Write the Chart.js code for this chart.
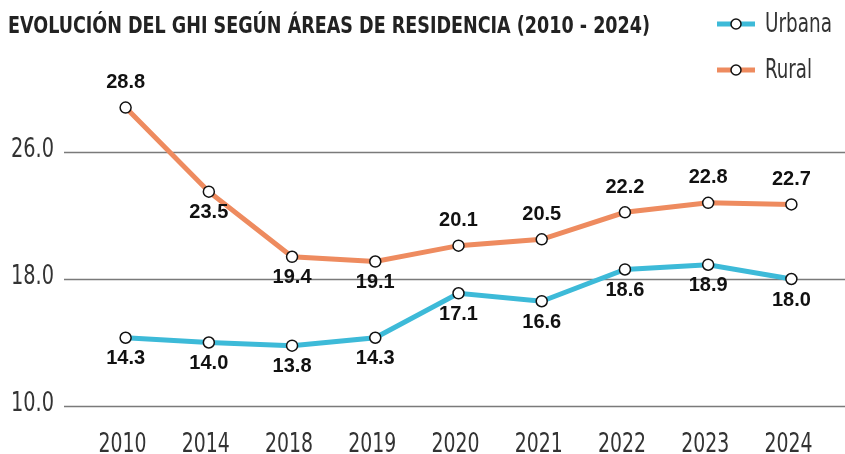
<!DOCTYPE html>
<html>
<head>
<meta charset="utf-8">
<script src="https://cdn.jsdelivr.net/npm/chart.js@4"></script>
<style>
  body { margin: 0; background: #fff; }
  #wrap { width: 845px; height: 454px; position: relative; }
</style>
</head>
<body>
<div id="wrap"><canvas id="ghiChart"></canvas></div>
<script>
// GHI by area of residence, 2010 - 2024
const years = ['2010', '2014', '2018', '2019', '2020', '2021', '2022', '2023', '2024']
const urbana = [14.3, 14.0, 13.8, 14.3, 17.1, 16.6, 18.6, 18.9, 18.0]
const rural = [28.8, 23.5, 19.4, 19.1, 20.1, 20.5, 22.2, 22.8, 22.7]
const yTicks = [10, 18, 26]

// where each value label sits, relative to its point
const urbanaLabelPos = ['below', 'below', 'below', 'below', 'below', 'below', 'below', 'below', 'below']
const ruralLabelPos = ['above', 'below', 'below', 'below', 'above', 'above', 'above', 'above', 'above']

const titleText = 'EVOLUCIÓN DEL GHI SEGÚN ÁREAS DE RESIDENCIA (2010 - 2024)'
const condFont = '"DejaVu Sans Condensed", "Liberation Sans Narrow", sans-serif'

const extras = {
  id: 'extras',
  beforeDatasetsDraw(chart) {
    const ctx = chart.ctx
    const y = chart.scales.y
    const x = chart.scales.x
    ctx.save()
    // gridlines + y labels
    yTicks.forEach(v => {
      const py = Math.round(y.getPixelForValue(v)) + 0.5
      ctx.strokeStyle = '#7a7a7a'
      ctx.lineWidth = 1.5
      ctx.beginPath()
      ctx.moveTo(64, py)
      ctx.lineTo(chart.width, py)
      ctx.stroke()
      ctx.fillStyle = '#333'
      ctx.font = '26px ' + condFont
      ctx.textAlign = 'right'
      ctx.textBaseline = 'alphabetic'
      ctx.fillText(v.toFixed(1), 54, py + 4, 43)
    })
    // x labels (narrow, tall type)
    ctx.font = '26px ' + condFont
    ctx.textAlign = 'center'
    years.forEach((yr, i) => {
      ctx.fillText(yr, x.getPixelForValue(i) - 3, 452, 48)
    })
    ctx.restore()
  },
  afterDatasetsDraw(chart) {
    const ctx = chart.ctx
    ctx.save()
    // value labels
    ctx.font = 'bold 20px "Liberation Sans", Arial, sans-serif'
    ctx.fillStyle = '#111'
    ctx.textAlign = 'center'
    ctx.textBaseline = 'middle'
    chart.data.datasets.forEach((ds, i) => {
      const meta = chart.getDatasetMeta(i)
      meta.data.forEach((pt, j) => {
        const off = ds.labelPos[j] === 'above' ? -25 : 21
        ctx.fillText(ds.data[j].toFixed(1), pt.x, pt.y + off)
      })
    })
    // title
    ctx.font = 'bold 23px ' + condFont
    ctx.fillStyle = '#222'
    ctx.textAlign = 'left'
    ctx.fillText(titleText, 8, 27, 642)
    // legend
    chart.data.datasets.forEach((ds, i) => {
      const ly = 24 + i * 46
      ctx.strokeStyle = ds.borderColor
      ctx.lineWidth = 5
      ctx.beginPath()
      ctx.moveTo(717, ly)
      ctx.lineTo(755, ly)
      ctx.stroke()
      ctx.beginPath()
      ctx.arc(736, ly, 5, 0, Math.PI * 2)
      ctx.fillStyle = '#fff'
      ctx.fill()
      ctx.lineWidth = 1.5
      ctx.strokeStyle = '#111'
      ctx.stroke()
      ctx.fillStyle = '#333'
      ctx.font = '26px ' + condFont
      ctx.fillText(ds.label, 765, ly + 1, 67 - i * 20)
    })
    ctx.restore()
  }
}

const ctx = document.getElementById('ghiChart').getContext('2d')

new Chart(ctx, {
  type: 'line',
  data: {
    labels: years,
    datasets: [
      {
        label: 'Urbana',
        data: urbana,
        labelPos: urbanaLabelPos,
        borderColor: '#3dbad8',
        borderWidth: 5,
        pointRadius: 5.5,
        pointBackgroundColor: '#fff',
        pointBorderColor: '#111',
        pointBorderWidth: 1.5,
        tension: 0
      },
      {
        label: 'Rural',
        data: rural,
        labelPos: ruralLabelPos,
        borderColor: '#ee8b5f',
        borderWidth: 5,
        pointRadius: 5.5,
        pointBackgroundColor: '#fff',
        pointBorderColor: '#111',
        pointBorderWidth: 1.5,
        tension: 0
      }
    ]
  },
  options: {
    responsive: true,
    maintainAspectRatio: false,
    animation: false,
    layout: {
      padding: { left: 84, right: 12, top: 25, bottom: 48 }
    },
    plugins: {
      legend: { display: false },
      tooltip: { enabled: false }
    },
    scales: {
      x: {
        type: 'category',
        offset: true,
        display: false
      },
      y: {
        display: false,
        min: 10,
        max: 34
      }
    }
  },
  plugins: [extras]
})
</script>
</body>
</html>
